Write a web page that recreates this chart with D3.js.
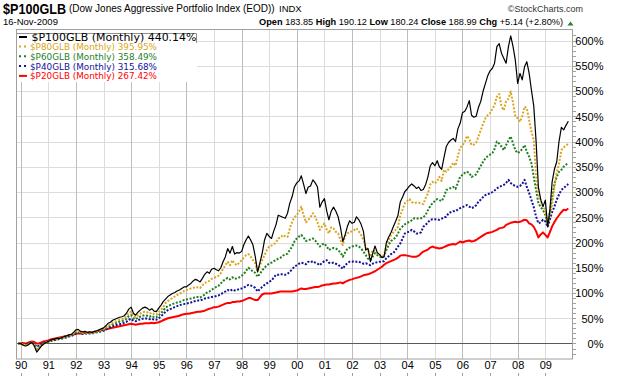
<!DOCTYPE html>
<html><head><meta charset="utf-8">
<script src="https://cdn.jsdelivr.net/npm/d3@7"></script>
<style>body{margin:0;background:#fff}svg{display:block}</style>
</head><body><svg id="c" width="620" height="376"></svg>
<script>
// ---- data (monthly, Dec 1989 .. Nov 2009, % change) ----
const firstMonth = [1989, 11];
const p100 = [0,
 0,-3,-5,-4,0,2,-5,-17,-11,-5,-1,2,
 4,7,8,9,10,10,12,14,15,17,18,22,
 27,28,24,23,24,22,23,22,24,25,27,29,
 31,35,40,42,46,48,50,52,53,55,60,68,
 72,60,56,62,66,70,72,70,66,69,64,63,
 70,76,83,88,93,96,99,101,104,106,109,112,
 112,116,119,124,127,125,122,129,137,142,139,147,
 149,146,144,150,162,172,188,179,192,177,180,179,
 182,196,205,213,205,195,172,142,160,179,205,218,
 212,208,222,235,254,252,250,248,258,278,291,310,
 318,322,332,315,297,310,312,324,318,310,270,280,
 287,262,245,262,270,262,251,230,202,215,232,243,
 238,240,251,245,236,222,185,188,162,178,193,180,
 176,170,172,200,211,220,231,242,254,280,290,301,
 306,312,316,312,307,310,303,305,315,330,352,358,
 352,362,350,345,368,390,398,403,406,400,425,436,
 457,460,468,481,452,448,450,468,480,500,515,530,
 540,545,555,588,594,575,565,555,588,609,588,561,
 515,535,522,548,558,535,502,470,400,310,285,271,
 284,231,262,320,345,360,400,428,423,432,440.14];
const p80 = [0,
 0,-2,-4,-3,0,2,-4,-14,-9,-4,-1,2,
 4,6,7,8,9,10,11,13,14,16,17,20,
 24,25,22,21,22,21,22,21,23,24,26,27,
 29,32,36,38,41,43,45,47,48,50,54,60,
 63,55,52,56,59,62,63,62,59,61,58,57,
 62,67,72,80,84,87,90,93,96,98,101,104,
 106,107,109,110,112,111,110,115,120,122,124,128,
 130,132,134,139,148,155,162,155,165,158,155,160,
 165,170,175,177,172,165,159,142,155,165,175,185,
 192,194,196,200,208,210,215,212,211,228,241,250,
 254,262,271,254,240,245,250,258,251,240,225,232,
 238,225,218,230,228,221,218,205,195,213,218,221,
 222,225,228,222,215,205,192,185,172,185,182,179,
 176,173,175,195,205,215,220,225,231,254,265,278,
 282,286,280,278,279,279,277,276,288,297,315,320,
 317,322,330,322,344,340,345,350,358,352,372,388,
 392,400,411,405,393,394,398,410,423,435,446,452,
 456,465,472,489,494,470,462,479,485,499,476,450,
 446,439,450,469,466,442,420,403,330,295,284,270,
 264,235,255,275,310,340,355,383,388,392,395.95];
const p60 = [0,
 0,-2,-3,-2,1,2,-3,-11,-7,-3,0,2,
 4,6,7,8,9,10,11,12,13,15,16,19,
 22,23,21,20,21,20,21,20,22,23,24,25,
 27,30,33,35,38,40,41,43,44,46,49,54,
 56,50,48,51,53,55,56,55,53,55,52,52,
 56,60,65,71,74,76,78,80,81,82,84,86,
 87,88,89,90,92,92,91,94,97,101,103,106,
 110,112,114,119,124,127,130,127,131,128,129,131,
 134,138,144,150,147,142,140,132,138,145,150,155,
 158,160,163,165,168,170,174,176,178,185,192,202,
 208,212,215,210,203,205,206,208,204,198,192,196,
 198,192,185,188,189,188,185,180,172,180,188,190,
 192,193,194,192,188,182,175,168,165,172,179,175,
 172,170,173,185,195,203,206,210,218,227,232,236,
 239,241,244,248,247,248,248,250,255,264,272,278,
 282,286,284,282,290,304,306,308,310,306,318,330,
 334,338,340,338,330,332,335,344,352,360,367,371,
 374,377,385,400,396,390,383,393,402,410,396,383,
 377,380,385,393,380,370,357,330,304,278,270,264,
 255,235,260,290,317,330,340,344,350,354,358.49];
const p40 = [0,
 0,-1,-2,-1,1,2,-1,-7,-4,-1,1,2,
 4,5,6,7,8,9,10,11,12,14,15,17,
 20,21,20,19,20,19,20,20,21,22,23,24,
 25,27,30,32,34,36,37,38,39,41,43,47,
 49,45,44,46,48,49,50,49,48,49,47,47,
 50,54,58,63,66,68,70,72,74,76,77,78,
 79,80,81,83,84,85,85,87,89,90,91,92,
 93,94,95,98,100,103,106,104,107,105,106,108,
 109,111,113,116,115,113,110,103,108,112,116,119,
 122,125,130,136,136,137,137,136,138,142,147,152,
 155,158,160,159,157,162,161,163,160,158,155,160,
 163,165,160,159,160,158,156,152,148,155,159,162,
 162,163,162,162,160,158,159,157,155,158,160,161,
 162,162,163,169,173,177,179,185,192,198,208,218,
 220,222,225,222,218,218,220,231,235,240,245,246,
 246,245,245,247,250,251,258,260,262,262,265,268,
 270,272,274,271,268,270,274,281,285,290,294,296,
 297,300,303,307,310,312,314,318,324,318,314,312,
 310,312,316,324,310,298,284,270,251,238,240,245,
 242,231,245,260,271,285,295,304,308,312,315.68];
const p20 = [0,
 0,1,0,1,3,4,3,0,0,2,4,5,
 6,8,9,10,11,12,13,14,15,16,17,18,
 19,20,20,20,21,21,22,22,23,24,25,26,
 27,28,29,30,31,32,33,34,35,36,37,38,
 39,38,37,38,39,39,40,40,40,41,40,41,
 42,44,46,48,50,51,52,53,54,55,57,58,
 59,59,60,61,62,63,63,64,65,67,69,70,
 72,72,73,75,77,79,80,80,82,82,83,83,
 84,86,88,90,90,88,86,86,92,97,99,99,
 99,99,100,101,102,103,103,103,103,103,103,104,
 105,107,109,108,108,109,110,111,112,112,113,115,
 116,117,117,118,119,119,120,121,119,122,124,126,
 127,129,130,131,133,135,136,137,139,141,143,146,
 149,152,156,159,161,163,165,167,170,174,175,175,
 174,173,172,172,172,174,178,182,184,186,190,192,
 190,189,188,189,191,193,195,196,197,196,199,202,
 200,202,203,204,202,203,205,208,211,214,217,219,
 220,221,223,225,228,229,230,235,237,239,240,241,
 240,241,243,245,244,238,236,231,222,210,216,220,
 215,210,220,232,240,248,254,260,265,264,267.42];

const seriesNames = ["$P100GLB (Monthly) 440.14%","$P80GLB (Monthly) 395.95%","$P60GLB (Monthly) 358.49%","$P40GLB (Monthly) 315.68%","$P20GLB (Monthly) 267.42%"];
const seriesColors = ["#000000","#daa520","#1f7f1f","#12129c","#ff0000"];
const yearLabels = ["90","91","92","93","94","95","96","97","98","99","00","01","02","03","04","05","06","07","08","09"];
const yTickValues = [0,50,100,150,200,250,300,350,400,450,500,550,600];
const quote = [["Open","183.85"],["High","190.12"],["Low","180.24"],["Close","188.99"],["Chg","+5.14 (+2.80%)"]];

// ---- drawing ----
const svg = d3.select("#c");
const L=16, R=573, T=29.5, B=359;
const x = d3.scaleTime().domain([new Date(1989,9,31), new Date(2010,0,2)]).range([L,R]);
const y = d3.scaleLinear().domain([-30.7,621.8]).range([B,T]);
const dates = p100.map((d,i)=>new Date(firstMonth[0], firstMonth[1]+i, 1));
const yearDates = yearLabels.map((s,i)=>new Date(1990+i,0,1));
const sans = "Liberation Sans, Arial, sans-serif";

svg.append("rect").attr("width",620).attr("height",376).attr("fill","#fff");

// grid
const g = svg.append("g");
g.selectAll("line.hy").data(yTickValues.filter(v=>v!==0)).join("line")
  .attr("x1",L).attr("x2",R).attr("y1",d=>Math.round(y(d))+0.5).attr("y2",d=>Math.round(y(d))+0.5)
  .attr("stroke","#dcdcdc");
g.selectAll("line.vx").data(yearDates).join("line")
  .attr("x1",d=>Math.round(x(d))+0.5).attr("x2",d=>Math.round(x(d))+0.5)
  .attr("y1",T).attr("y2",B)
  .attr("stroke",(d,i)=> i%2===0 ? "#bdbdbd" : "#dcdcdc");
g.append("line").attr("x1",L).attr("x2",R).attr("y1",Math.round(y(0))+0.5).attr("y2",Math.round(y(0))+0.5)
  .attr("stroke","#5a5a5a");

// frame
svg.append("rect").attr("x",L+0.5).attr("y",T).attr("width",R-L-1).attr("height",B-T)
  .attr("fill","none").attr("stroke","#a0a0a0");

// lines
const line = d3.line().x((d,i)=>x(dates[i])).y(d=>y(d));
const all = [p100,p80,p60,p40,p20];
[4,3,2,1,0].forEach(k=>{
  const p = svg.append("path").datum(all[k]).attr("d",line).attr("fill","none")
    .attr("stroke",seriesColors[k]).attr("stroke-linejoin","round");
  if(k===0) p.attr("stroke-width",1.2);
  else if(k===4) p.attr("stroke-width",2);
  else p.attr("stroke-width",2).attr("stroke-dasharray","2,1.6");
});

// right axis
const ay = svg.append("g").attr("transform",`translate(${R-0.5},0)`)
  .call(d3.axisRight(y).tickValues(yTickValues).tickFormat(d=>d+"%").tickSize(0).tickPadding(0));
ay.select(".domain").remove();
ay.selectAll("text").attr("x",31).attr("text-anchor","end").attr("dy","0.35em")
  .attr("font-family",sans).attr("font-size",11).attr("fill","#000");
svg.append("g").selectAll("line").data(d3.range(-20,620,10)).join("line")
  .attr("x1",R).attr("x2",R+3).attr("y1",d=>Math.round(y(d))+0.5).attr("y2",d=>Math.round(y(d))+0.5)
  .attr("stroke","#a0a0a0");

// bottom axis
const ax = svg.append("g").attr("transform",`translate(0,${B})`)
  .call(d3.axisBottom(x).tickValues(yearDates).tickFormat((d,i)=>yearLabels[i]).tickSize(0));
ax.select(".domain").remove();
ax.selectAll("text").attr("y",10).attr("dy",0)
  .attr("font-family",sans).attr("font-size",11).attr("fill","#000");
svg.append("g").selectAll("line").data(yearDates).join("line")
  .attr("x1",d=>Math.round(x(d))+0.5).attr("x2",d=>Math.round(x(d))+0.5)
  .attr("y1",373).attr("y2",376).attr("stroke","#a0a0a0");

// legend
svg.append("rect").attr("x",L+1).attr("y",T+0.5).attr("width",180).attr("height",52).attr("fill","#fff");
svg.append("path").attr("d",`M${L+1},33.5H196.5V43`).attr("fill","none").attr("stroke","#909090");
const lg = svg.append("g");
seriesNames.forEach((nm,i)=>{
  const by = i===0 ? 40.5 : 50 + (i-1)*9.8;
  const my = i===0 ? 37 : by-3.5;
  const mk = lg.append("line").attr("x1",19).attr("x2",27).attr("y1",my).attr("y2",my)
      .attr("stroke",seriesColors[i]).attr("stroke-width",2);
  if(i>0 && i<4) mk.attr("stroke-dasharray","2,3");
  lg.append("text").attr("x", i===0?31.5:30).attr("y",by).text(nm)
    .attr("font-family","DejaVu Sans, Verdana, sans-serif").attr("font-size", i===0?10.5:8.5)
    .attr("fill", seriesColors[i])
    .attr("textLength", i===0?165:127).attr("lengthAdjust","spacingAndGlyphs");
});

// header
svg.append("text").attr("x",3).attr("y",14).text("$P100GLB").attr("font-family",sans)
  .attr("font-size",14).attr("font-weight","bold").attr("textLength",63).attr("lengthAdjust","spacingAndGlyphs");
svg.append("text").attr("x",69).attr("y",12).text("(Dow Jones Aggressive Portfolio Index (EOD))")
  .attr("font-family",sans).attr("font-size",10);
svg.append("text").attr("x",279).attr("y",12).text("INDX").attr("font-family",sans).attr("font-size",9.5);
svg.append("text").attr("x",583).attr("y",11.5).attr("text-anchor","end").text("\u00A9StockCharts.com")
  .attr("font-family",sans).attr("font-size",9).attr("fill","#333");
svg.append("text").attr("x",3).attr("y",25).text("16-Nov-2009").attr("font-family",sans).attr("font-size",9.5);
const q = svg.append("text").attr("x",563).attr("y",25).attr("text-anchor","end")
  .attr("font-family",sans).attr("font-size",9.2);
quote.forEach(([k,v],i)=>{
  q.append("tspan").attr("font-weight","bold").text((i?" ":"")+k);
  q.append("tspan").text(" "+v);
});
svg.append("path").attr("d","M567.5,25.5L570.5,21.5L573.5,25.5Z").attr("fill","#2e7d32");
</script></body></html>
